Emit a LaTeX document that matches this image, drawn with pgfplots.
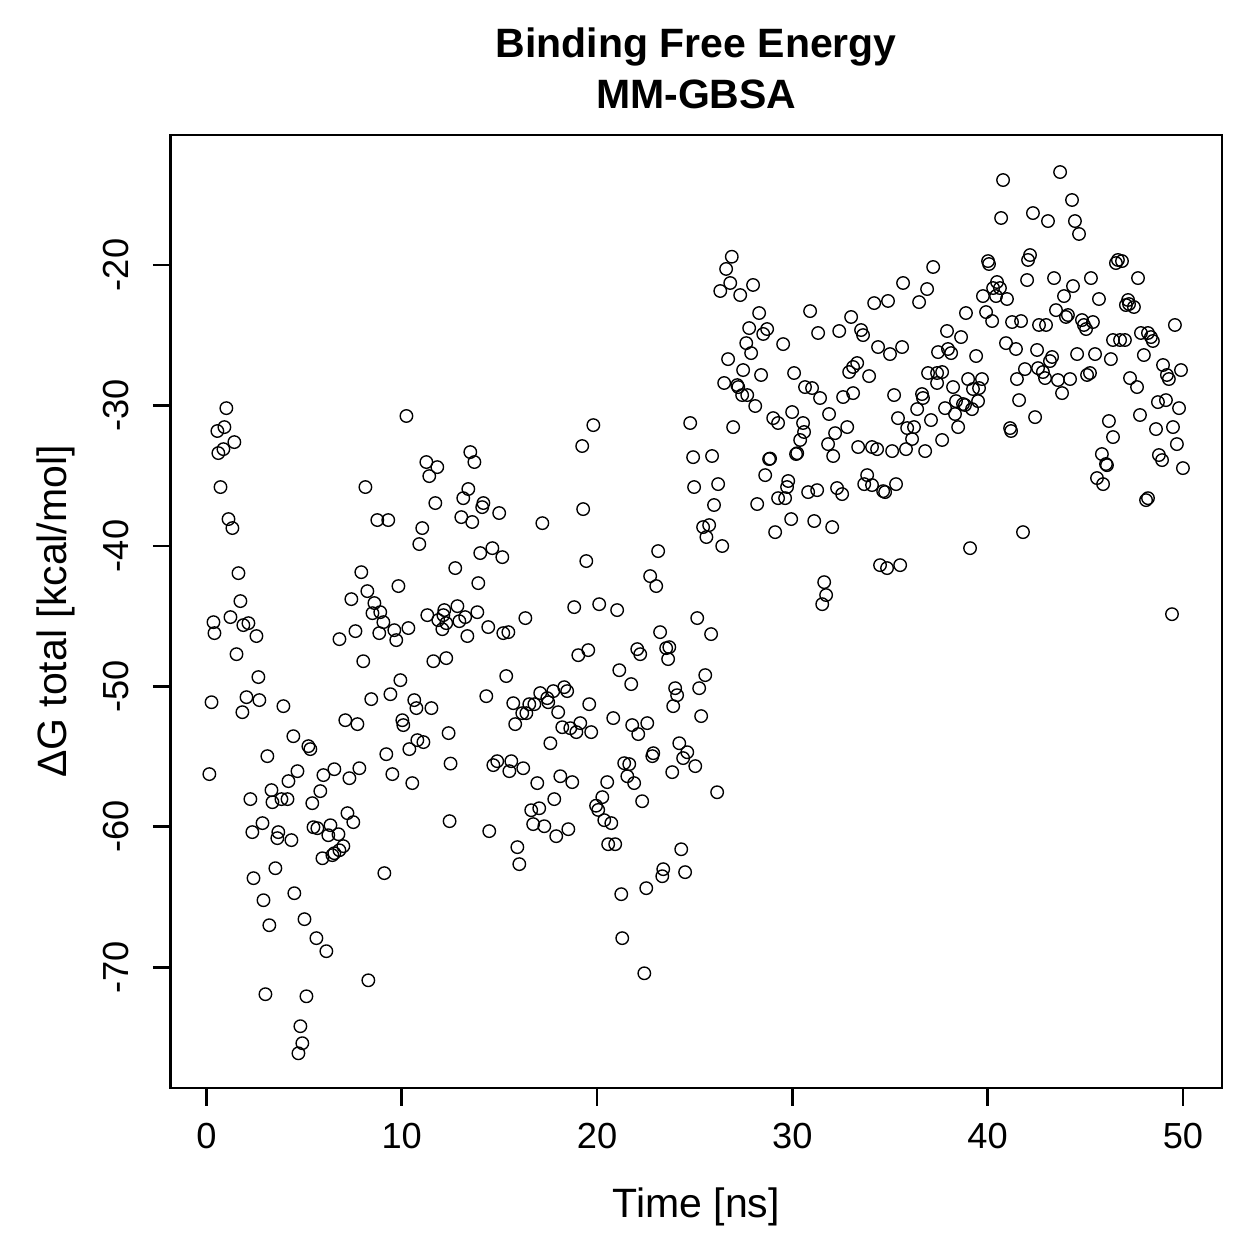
\documentclass[border=0pt]{standalone}
\usepackage{fontspec}
\setmainfont{Liberation Sans}
\usepackage{pgfplots}
\pgfplotsset{compat=1.18}
\usepackage{pgfplotstable}

% MM-GBSA total binding free energy per frame: time [ns], dG [kcal/mol]
\pgfplotstableread{
t dG
0.15 -56.25
0.26 -51.13
0.36 -45.43
0.41 -46.21
0.56 -31.82
0.61 -33.39
0.72 -35.81
0.87 -33.11
0.92 -31.54
1.02 -30.19
1.13 -38.09
1.23 -45.07
1.33 -38.73
1.43 -32.61
1.54 -47.71
1.64 -41.94
1.74 -43.93
1.84 -51.84
1.89 -45.64
2.05 -50.77
2.15 -45.50
2.25 -58.03
2.35 -60.38
2.41 -63.66
2.56 -46.42
2.66 -49.34
2.71 -50.98
2.87 -59.74
2.92 -65.23
3.02 -71.92
3.12 -54.97
3.22 -67.01
3.33 -57.39
3.38 -58.25
3.53 -62.95
3.63 -60.81
3.68 -60.38
3.84 -58.03
3.94 -51.41
4.15 -58.03
4.20 -56.75
4.35 -60.95
4.45 -53.55
4.50 -64.73
4.66 -56.04
4.71 -76.13
4.81 -74.20
4.91 -75.41
5.02 -66.58
5.12 -72.07
5.22 -54.26
5.32 -54.47
5.42 -58.32
5.48 -60.03
5.63 -67.93
5.68 -60.10
5.83 -57.46
5.94 -62.24
5.99 -56.32
6.14 -68.86
6.24 -60.60
6.35 -59.89
6.45 -62.02
6.55 -55.90
6.55 -61.88
6.76 -60.53
6.81 -61.67
6.81 -46.64
7.01 -61.38
7.11 -52.41
7.22 -59.03
7.32 -56.54
7.42 -43.79
7.52 -59.67
7.63 -46.07
7.73 -52.69
7.83 -55.83
7.93 -41.87
8.03 -48.21
8.14 -35.81
8.24 -43.22
8.29 -70.93
8.44 -50.91
8.50 -44.79
8.60 -44.07
8.75 -38.16
8.85 -46.21
8.90 -44.72
9.06 -45.43
9.11 -63.30
9.21 -54.83
9.31 -38.16
9.42 -50.56
9.52 -56.25
9.62 -46.00
9.72 -46.71
9.83 -42.86
9.93 -49.56
10.03 -52.41
10.08 -52.76
10.24 -30.75
10.34 -45.85
10.39 -54.47
10.54 -56.89
10.64 -50.98
10.75 -51.55
10.80 -53.83
10.90 -39.87
11.05 -38.73
11.11 -53.97
11.26 -34.03
11.31 -44.93
11.41 -35.03
11.52 -51.55
11.62 -48.21
11.72 -36.95
11.82 -34.39
11.87 -45.28
12.28 -47.99
12.40 -53.33
12.50 -55.50
12.45 -59.60
12.08 -45.93
12.13 -44.93
12.18 -44.57
12.28 -45.50
12.74 -41.58
12.85 -44.29
12.95 -45.36
13.05 -37.95
13.15 -36.60
13.25 -45.07
13.36 -46.42
13.41 -35.95
13.51 -33.32
13.61 -38.30
13.72 -34.03
13.87 -44.72
13.92 -42.65
14.02 -40.51
14.12 -37.24
14.18 -36.95
14.33 -50.70
14.43 -45.78
14.48 -60.31
14.64 -40.16
14.69 -55.61
14.89 -55.33
14.99 -37.66
15.15 -40.80
15.20 -46.21
15.35 -49.27
15.46 -46.14
15.51 -56.04
15.61 -55.33
15.71 -51.20
15.81 -52.69
15.92 -61.45
16.02 -62.66
16.17 -51.91
16.22 -55.83
16.33 -45.14
16.38 -51.91
16.53 -51.27
16.63 -58.82
16.73 -59.81
16.79 -51.27
16.94 -56.89
17.04 -58.68
17.09 -50.48
17.20 -38.38
17.30 -59.96
17.45 -50.84
17.50 -51.13
17.61 -54.05
17.76 -50.34
17.81 -58.03
17.91 -60.67
18.01 -51.84
18.12 -56.40
18.22 -52.91
18.32 -50.06
18.47 -50.34
18.53 -60.17
18.63 -52.98
18.73 -56.82
18.83 -44.36
18.94 -53.26
19.04 -47.78
19.14 -52.62
19.24 -32.89
19.29 -37.38
19.45 -41.08
19.55 -47.42
19.60 -51.27
19.70 -53.26
19.81 -31.40
19.95 -58.50
20.06 -58.80
20.11 -44.15
20.27 -57.89
20.37 -59.53
20.52 -56.82
20.57 -61.24
20.73 -59.74
20.83 -52.26
20.93 -61.24
21.03 -44.57
21.14 -48.85
21.24 -64.80
21.29 -67.93
21.39 -55.47
21.55 -56.40
21.65 -55.54
21.75 -49.84
21.80 -52.76
21.90 -56.89
22.06 -47.35
22.11 -53.40
22.21 -47.71
22.31 -58.18
22.42 -70.43
22.52 -64.37
22.57 -52.62
22.72 -42.15
22.83 -54.97
22.88 -54.76
23.03 -42.86
23.13 -40.37
23.23 -46.14
23.34 -63.52
23.39 -63.02
23.54 -47.28
23.64 -48.06
23.70 -47.21
23.85 -56.11
23.90 -51.41
24.00 -50.13
24.10 -50.63
24.21 -54.05
24.31 -61.60
24.41 -55.11
24.51 -63.23
24.62 -54.69
24.77 -31.25
24.92 -33.68
24.97 -35.81
25.03 -55.68
25.13 -45.14
25.23 -50.13
25.33 -52.12
25.43 -38.66
25.54 -49.20
25.60 -39.37
25.74 -38.52
25.84 -46.28
25.89 -33.60
25.99 -37.09
26.15 -57.54
26.20 -35.60
26.31 -21.85
26.41 -40.01
26.51 -28.40
26.61 -20.28
26.71 -26.70
26.82 -21.28
26.90 -19.41
26.97 -31.54
27.18 -28.55
27.23 -28.69
27.33 -22.14
27.43 -29.26
27.48 -27.48
27.64 -25.56
27.69 -29.26
27.79 -24.49
27.89 -26.27
27.99 -21.42
28.10 -30.04
28.20 -37.02
28.30 -23.42
28.40 -27.83
28.51 -24.91
28.61 -34.96
28.71 -24.56
28.81 -33.82
28.86 -33.78
29.02 -30.90
29.12 -39.02
29.27 -31.25
29.27 -36.60
29.53 -25.63
29.63 -36.60
29.73 -35.81
29.79 -35.38
29.94 -38.09
29.99 -30.47
30.09 -27.69
30.19 -33.46
30.25 -33.40
30.40 -32.46
30.55 -31.25
30.60 -31.89
30.65 -28.69
30.81 -36.17
30.91 -23.28
31.01 -28.76
31.12 -38.23
31.27 -36.03
31.32 -24.84
31.42 -29.47
31.53 -44.15
31.63 -42.58
31.73 -43.50
31.83 -32.75
31.88 -30.61
32.04 -38.66
32.09 -33.60
32.19 -31.97
32.29 -35.88
32.40 -24.70
32.55 -36.31
32.60 -29.40
32.81 -31.54
32.91 -27.62
33.01 -23.70
33.11 -27.26
33.11 -29.12
33.32 -26.98
33.37 -32.96
33.52 -24.63
33.62 -24.99
33.68 -35.60
33.83 -34.96
33.93 -27.91
34.08 -32.96
34.08 -35.67
34.19 -22.71
34.34 -33.11
34.39 -25.84
34.49 -41.37
34.65 -36.10
34.75 -36.17
34.85 -41.58
34.90 -22.56
35.00 -26.34
35.11 -33.25
35.21 -29.26
35.31 -35.60
35.41 -30.90
35.52 -41.37
35.62 -25.84
35.67 -21.28
35.82 -33.11
35.88 -31.61
36.13 -32.39
36.23 -31.54
36.39 -30.26
36.49 -22.64
36.64 -29.19
36.69 -29.47
36.80 -33.25
36.90 -21.71
36.95 -27.69
37.10 -31.04
37.21 -20.14
37.41 -27.69
37.41 -28.40
37.46 -26.20
37.67 -27.62
37.67 -32.46
37.82 -30.19
37.92 -24.70
37.97 -25.98
38.13 -26.27
38.23 -28.69
38.33 -30.61
38.38 -29.69
38.49 -31.54
38.64 -25.13
38.74 -29.90
38.84 -29.97
38.89 -23.42
39.00 -28.12
39.10 -40.16
39.20 -30.26
39.25 -28.83
39.41 -26.48
39.51 -29.69
39.56 -28.76
39.71 -28.12
39.76 -22.21
39.92 -23.35
40.02 -19.72
40.07 -19.93
40.23 -23.99
40.28 -21.64
40.43 -22.21
40.48 -21.21
40.63 -21.64
40.69 -16.65
40.79 -13.95
40.94 -25.56
40.99 -22.42
41.15 -31.61
41.20 -31.82
41.25 -24.06
41.45 -25.98
41.50 -28.12
41.61 -29.62
41.71 -23.99
41.81 -39.02
41.91 -27.41
42.02 -21.07
42.07 -19.64
42.17 -19.29
42.32 -16.30
42.43 -30.83
42.53 -26.05
42.58 -27.34
42.63 -24.27
42.83 -27.62
42.94 -28.05
42.99 -24.27
43.09 -16.87
43.19 -26.84
43.30 -26.55
43.40 -20.93
43.50 -23.21
43.60 -28.19
43.71 -13.38
43.81 -29.12
43.91 -22.21
44.01 -23.70
44.11 -23.56
44.22 -28.12
44.32 -15.37
44.37 -21.50
44.47 -16.87
44.58 -26.34
44.68 -17.79
44.83 -23.92
44.93 -24.27
45.04 -24.56
45.09 -27.83
45.24 -27.69
45.29 -20.93
45.39 -24.06
45.50 -26.34
45.60 -35.17
45.70 -22.42
45.85 -33.46
45.91 -35.60
46.06 -34.17
46.11 -34.25
46.21 -31.11
46.31 -26.70
46.42 -25.34
46.42 -32.25
46.57 -19.86
46.67 -19.64
46.78 -25.34
46.88 -19.72
47.03 -25.34
47.08 -22.85
47.19 -22.49
47.24 -22.78
47.29 -28.05
47.49 -22.99
47.65 -28.69
47.70 -20.93
47.80 -30.68
47.85 -24.84
48.00 -26.41
48.11 -36.74
48.21 -36.60
48.21 -24.84
48.36 -25.13
48.46 -25.41
48.62 -31.68
48.72 -29.76
48.77 -33.53
48.93 -33.89
48.98 -27.12
49.13 -29.62
49.18 -27.83
49.28 -28.12
49.44 -44.86
49.49 -31.54
49.59 -24.27
49.69 -32.75
49.80 -30.19
49.90 -27.48
50.00 -34.46
}\energy

\begin{document}
\begin{tikzpicture}
% page frame around the plot box
\path[use as bounding box] (-68.2pt,-68.4pt) rectangle (435.4pt,435.2pt);
\begin{axis}[
  at={(0,0)}, anchor=south west,
  scale only axis,
  width=420.6pt, height=381.2pt,
  xmin=-1.84, xmax=52.0,
  ymin=-78.6, ymax=-10.74,
  clip mode=individual,
  xtick={0,10,20,30,40,50},
  ytick={-70,-60,-50,-40,-30,-20},
  xtick pos=bottom, ytick pos=left,
  tick align=outside,
  major tick length=7pt,
  every tick/.style={black, line width=1.1pt},
  axis line style={line width=1.1pt},
  /pgf/number format/assume math mode=true,
  ticklabel style={font=\fontsize{14.5}{17}\selectfont},
  xticklabel style={inner ysep=7pt},
  yticklabel style={rotate=90, anchor=south, inner ysep=9.6pt},
  label style={font=\fontsize{16.4}{19}\selectfont},
  xlabel={Time [ns]},
  xlabel style={at={(axis description cs:0.5,-0.1354)}, anchor=base},
  ylabel={ΔG total [kcal/mol]},
  ylabel style={at={(axis description cs:-0.099,0.5)}, anchor=base, rotate=0},
]
\addplot[only marks, mark=o, mark size=2.5pt,
  mark options={line width=0.55pt, black}] table[x=t, y=dG] {\energy};
\node[font=\fontsize{16.4}{19}\selectfont\bfseries, anchor=base]
  at (axis description cs:0.5,1.0818) {Binding Free Energy};
\node[font=\fontsize{16.4}{19}\selectfont\bfseries, anchor=base]
  at (axis description cs:0.5,1.0273) {MM-GBSA};
\end{axis}
\end{tikzpicture}
\end{document}
